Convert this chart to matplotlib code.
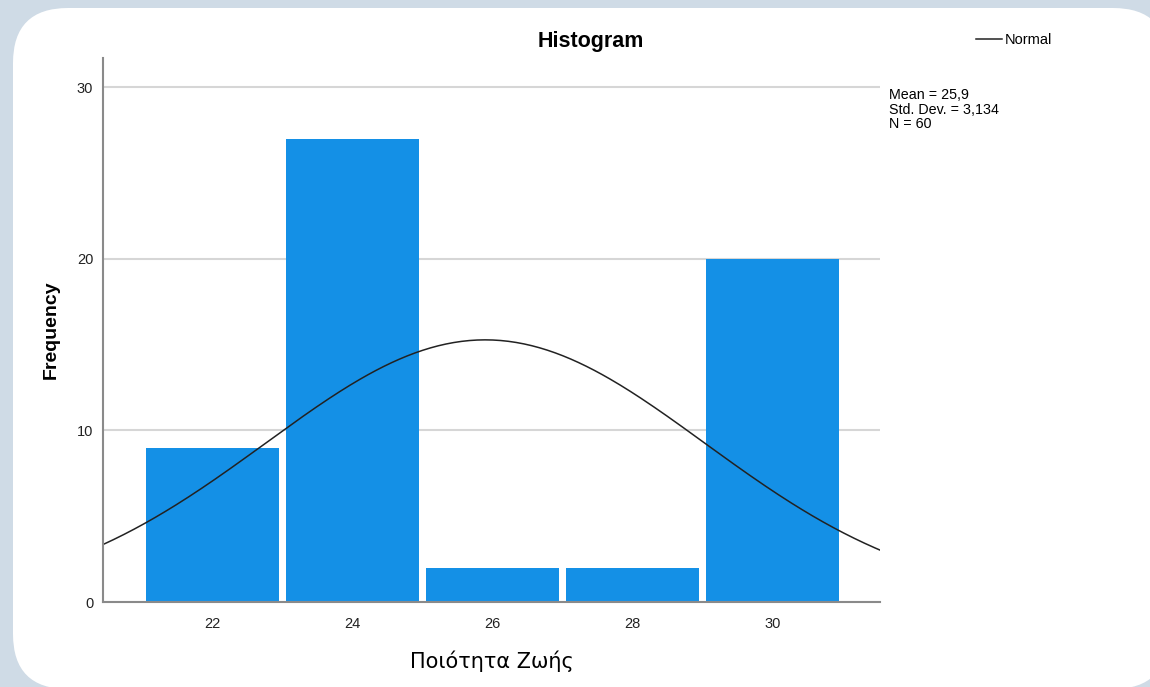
import matplotlib.pyplot as plt
from matplotlib.patches import FancyBboxPatch
import numpy as np

plt.rcParams['font.family'] = ['Liberation Sans', 'DejaVu Sans']

# histogram data
bin_centers = [22, 24, 26, 28, 30]
counts = [9, 27, 2, 2, 20]
bin_width = 2
mean = 25.9
std_dev = 3.134
n = 60
y_ticks = [0, 10, 20, 30]

W, H = 1150, 687
fig = plt.figure(figsize=(W / 100, H / 100), dpi=100)
fig.patch.set_facecolor('#cfdbe6')

# white rounded panel behind the chart
bg = fig.add_axes([0, 0, 1, 1], zorder=-1)
bg.set_xlim(0, W)
bg.set_ylim(H, 0)
bg.axis('off')
r = 55
bg.add_patch(FancyBboxPatch((13 + r, 8 + r), 1168 - 13 - 2 * r, 689 - 8 - 2 * r,
                            boxstyle='round,pad=%d' % r, fc='white', ec='none'))

ax = fig.add_axes([103 / W, 1 - 602 / H, (880 - 103) / W, (602 - 58) / H])
ax.set_facecolor('none')

ax.bar(bin_centers, counts, width=1.9, color='#1490e6', zorder=2)

x = np.linspace(20.44, 31.54, 300)
pdf = n * bin_width / (std_dev * np.sqrt(2 * np.pi)) * np.exp(-0.5 * ((x - mean) / std_dev) ** 2)
line, = ax.plot(x, pdf, color='#222222', lw=1.1, zorder=3)

ax.set_xlim(20.44, 31.54)
ax.set_ylim(0, 31.7)
ax.set_xticks(bin_centers)
ax.set_yticks(y_ticks)
ax.tick_params(length=0, labelsize=10.5, colors='#222222')
ax.tick_params(axis='x', pad=11)
ax.tick_params(axis='y', pad=7)
ax.grid(axis='y', color='#d6d6d6', lw=1.5, zorder=1)
for s in ['top', 'right']:
    ax.spines[s].set_visible(False)
for s in ['left', 'bottom']:
    ax.spines[s].set_color('#8a8a8a')
    ax.spines[s].set_linewidth(1.5)
    ax.spines[s].set_zorder(4)

ax.set_ylabel('Frequency', fontsize=14, fontweight='bold', labelpad=12)
ax.set_xlabel('Ποιότητα Ζωής', fontsize=15, labelpad=14, family=['DejaVu Sans'])

fig.text(591 / W, 1 - 41 / H, 'Histogram', fontsize=15.5, fontweight='bold',
         ha='center', va='center')

fig.legend([line], ['Normal'], loc='center left', bbox_to_anchor=(976 / W, 1 - 40 / H),
           frameon=False, fontsize=10.5, handlelength=1.8, handletextpad=0.2,
           borderpad=0, borderaxespad=0)

fig.text(889 / W, 1 - 88 / H, 'Mean = 25,9\nStd. Dev. = 3,134\nN = 60',
         fontsize=10.3, ha='left', va='top', linespacing=1.05)

plt.savefig('out.png', dpi=100)
